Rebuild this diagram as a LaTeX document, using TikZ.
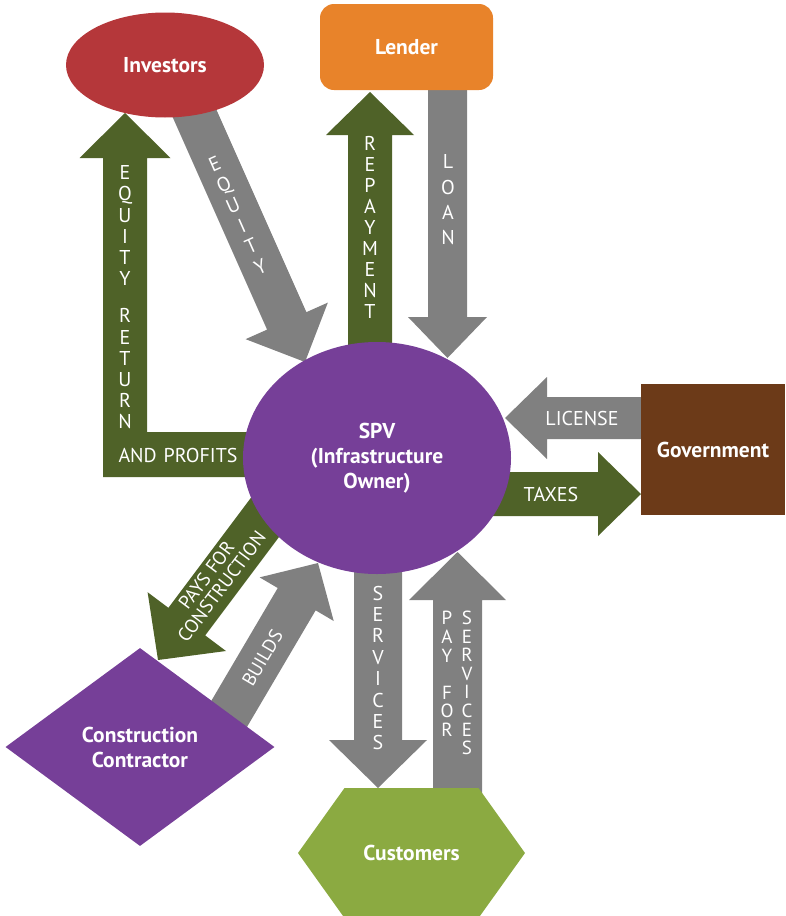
\documentclass[tikz,border=0pt]{standalone}
\usepackage{fontspec}
\setmainfont{PT Sans}
\usetikzlibrary{calc,shapes.geometric}
\definecolor{investred}{HTML}{B5373A}
\definecolor{lenderorange}{HTML}{E8832A}
\definecolor{dgreen}{HTML}{4F6228}
\definecolor{agray}{HTML}{808080}
\definecolor{spvpurple}{HTML}{763F98}
\definecolor{govbrown}{HTML}{6C3A18}
\definecolor{custgreen}{HTML}{8BAA41}
\pgfdeclarelayer{bg}
\pgfsetlayers{bg,main}
% #1 colour, #2 start, #3 tip, #4 half shaft, #5 half head, #6 head length
\newcommand\blockarrow[6]{%
  \path ($(#3)!#6!(#2)$) coordinate (ba-base);
  \fill[#1] ($(#2)!#4!90:(#3)$) -- ($(ba-base)!#4!90:(#3)$) -- ($(ba-base)!#5!90:(#3)$)
    -- (#3) -- ($(ba-base)!#5!-90:(#3)$) -- ($(ba-base)!#4!-90:(#3)$)
    -- ($(#2)!#4!-90:(#3)$) -- cycle;
}
\tikzset{
  nodelbl/.style={text=white, font=\bfseries\fontsize{21.5}{25}\selectfont, align=center},
  lbl/.style={text=white, font=\fontsize{20}{21}\selectfont, inner sep=0pt},
  vstack/.style={text=white, align=center, inner sep=0pt},
}
\begin{document}
\begin{tikzpicture}[x=1pt,y=-1pt]
\useasboundingbox (0,0) rectangle (785,916);

% ---- entities
\node[ellipse, fill=investred, minimum width=198pt, minimum height=105pt, inner sep=0pt, nodelbl] (inv) at (165,65) {Investors};
\node[rectangle, rounded corners=14pt, fill=lenderorange, minimum width=173pt, minimum height=86pt, nodelbl] (lender) at (406.5,47) {Lender};
\node[ellipse, fill=spvpurple, minimum width=268pt, minimum height=232pt, inner sep=0pt, nodelbl] (spv) at (377,458) {SPV\\(Infrastructure\\Owner)};
\node[rectangle, fill=govbrown, minimum width=144pt, minimum height=131pt, nodelbl] (gov) at (713,449.5) {Government};
\node[diamond, fill=spvpurple, minimum width=269pt, minimum height=198pt, inner sep=0pt, nodelbl] (contr) at (140,747) {Construction\\Contractor};
\coordinate (custc) at (411.5,853);
\fill[custgreen] ($(custc)+(-67,-65)$) -- ($(custc)+(67,-65)$) -- ($(custc)+(113.5,0)$)
  -- ($(custc)+(67,65)$) -- ($(custc)+(-67,65)$) -- ($(custc)+(-113.5,0)$) -- cycle;
\node[nodelbl] (cust) at (custc) {Customers};

% ---- arrows (behind the entities)
\begin{pgfonlayer}{bg}
\coordinate (eqS) at (185,92);      \coordinate (eqT) at (305,362);
\coordinate (repS) at (370,380);    \coordinate (repT) at (370,92);
\coordinate (loanS) at (447.5,70);  \coordinate (loanT) at (447.5,358);
\coordinate (licS) at (660,418);    \coordinate (licT) at (505,418);
\coordinate (taxS) at (460,494);    \coordinate (taxT) at (641,494);
\coordinate (payS) at (278,500);    \coordinate (payT) at (158,660);
\coordinate (bldS) at (216.6,735.2);\coordinate (bldT) at (318,563);
\coordinate (srvS) at (378,540);    \coordinate (srvT) at (378,788);
\coordinate (psS) at (457.5,800);   \coordinate (psT) at (457.5,552);
\coordinate (erS) at (270,454.5);   \coordinate (erT) at (125,113);

\blockarrow{agray}{eqS}{eqT}{21.5pt}{45pt}{45pt}
\blockarrow{dgreen}{repS}{repT}{22pt}{44pt}{43pt}
\blockarrow{agray}{loanS}{loanT}{19.5pt}{39.5pt}{41pt}
\blockarrow{agray}{licS}{licT}{21pt}{41pt}{42pt}
\blockarrow{dgreen}{taxS}{taxT}{22pt}{42pt}{43pt}
\blockarrow{dgreen}{payS}{payT}{23pt}{49pt}{48pt}
\blockarrow{agray}{bldS}{bldT}{22pt}{43pt}{42pt}
\blockarrow{agray}{srvS}{srvT}{24pt}{49pt}{48pt}
\blockarrow{agray}{psS}{psT}{24.5pt}{48.5pt}{48pt}
\fill[dgreen] let \p1=(erS), \p2=(erT) in
  (\x1,\y1+22.5pt) -- (\x2+22pt,\y1+22.5pt) -- (\x2+22pt,\y2-45pt) -- (\x2+45.5pt,\y2-45pt)
  -- (\x2,\y2) -- (\x2-45.5pt,\y2-45pt) -- (\x2-22pt,\y2-45pt) -- (\x2-22pt,\y1-22.5pt)
  -- (\x1,\y1-22.5pt) -- cycle;
\end{pgfonlayer}

% ---- arrow labels
\node[lbl] (lLic) at (582,418) {LICENSE};
\node[lbl] (lTax) at (551,494) {TAXES};
\node[lbl] (lAP) at (178,455) {AND\hspace{7pt}PROFITS};
\node[vstack, font=\fontsize{20}{21.2}\selectfont] (lER) at (125,297.5) {E\\Q\\U\\I\\T\\Y\\[16pt]R\\E\\T\\U\\R\\N};
\node[vstack, rotate=24, font=\fontsize{20}{22.4}\selectfont] (lEq) at (237.5,215.5) {E\\Q\\U\\I\\T\\Y};
\node[vstack, font=\fontsize{20}{21.1}\selectfont] (lRep) at (370,227.5) {R\\E\\P\\A\\Y\\M\\E\\N\\T};
\node[vstack, font=\fontsize{20}{25.3}\selectfont] (lLoan) at (448,200) {L\\O\\A\\N};
\node[vstack, font=\fontsize{20}{21.4}\selectfont] (lSrv) at (378,668) {S\\E\\R\\V\\I\\C\\E\\S};
\node[vstack, font=\fontsize{19}{18.6}\selectfont] (lPay) at (447,674) {P\\A\\Y\\[18.6pt]F\\O\\R};
\node[vstack, font=\fontsize{19}{18.6}\selectfont] (lSrv2) at (467,683) {S\\E\\R\\V\\I\\C\\E\\S};
\node[vstack, rotate=53, font=\fontsize{19}{19}\selectfont] (lPFC) at (214,581) {PAYS FOR\\CONSTRUCTION};
\node[lbl, rotate=59.5, font=\fontsize{19}{19}\selectfont] (lBld) at (262.5,658) {BUILDS};
\end{tikzpicture}
\end{document}
